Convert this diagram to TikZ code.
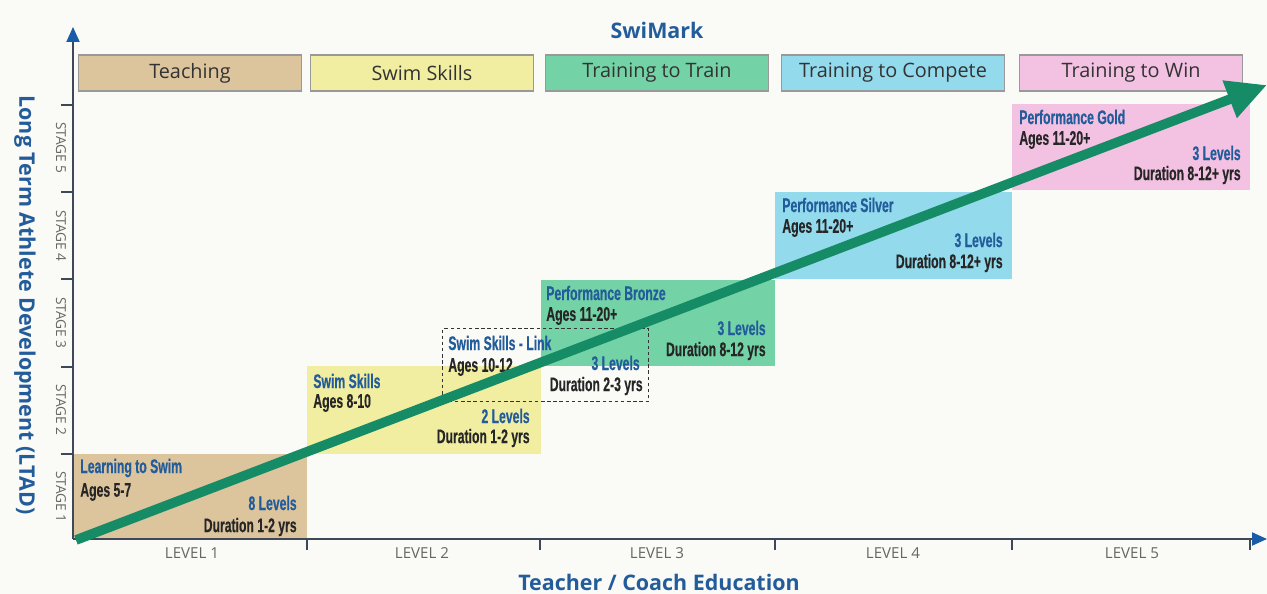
\documentclass[tikz,border=0pt]{standalone}
\usepackage{fontspec}
\setmainfont{Open Sans}
\newfontfamily\condfont[FakeStretch=0.62,BoldFeatures={FakeBold=0.4}]{Liberation Sans}
\usetikzlibrary{arrows.meta,positioning}

\definecolor{paper}{RGB}{250,250,246}
\definecolor{tanbox}{RGB}{220,196,157}
\definecolor{yellowbox}{RGB}{241,238,162}
\definecolor{greenbox}{RGB}{116,211,166}
\definecolor{bluebox}{RGB}{146,218,236}
\definecolor{pinkbox}{RGB}{243,193,225}
\definecolor{titleblue}{RGB}{35,92,155}
\definecolor{axisgray}{RGB}{62,72,88}
\definecolor{tipblue}{RGB}{25,92,168}
\definecolor{pathgreen}{RGB}{22,140,102}

\tikzset{
  headbox/.style={draw=gray!80, line width=0.6pt, minimum width=4.46cm, minimum height=0.72cm,
    inner sep=0pt, font=\fontsize{11.3}{13}\selectfont, text=black!80},
  stagebox/.style={inner sep=0pt, anchor=south west},
  boxtitle/.style={inner sep=0pt, anchor=west, text=titleblue, font=\condfont\bfseries\fontsize{11.2}{13}\selectfont},
  boxages/.style={inner sep=0pt, anchor=west, text=black!85, font=\condfont\bfseries\fontsize{11.2}{13}\selectfont},
  boxlevels/.style={inner sep=0pt, anchor=east, text=titleblue, font=\condfont\bfseries\fontsize{11.2}{13}\selectfont},
  boxtime/.style={inner sep=0pt, anchor=east, text=black!85, font=\condfont\bfseries\fontsize{11.2}{13}\selectfont},
  axisline/.style={axisgray, line width=1.1pt},
  axistitle/.style={text=titleblue, font=\bfseries\fontsize{12.2}{14}\selectfont},
  smalllbl/.style={text=black!60, font=\fontsize{7.8}{9}\selectfont}
}

\begin{document}
\begin{tikzpicture}
 \begin{scope}[x=0.02cm,y=-0.02cm]
\useasboundingbox (0,0) rectangle (1267,594);
\fill[paper] (0,0) rectangle (1267,594);

% top row
\node[axistitle] (swimark) at (657,30) {SwiMark};
\node[headbox, fill=tanbox] (teach) at (190,73) {Teaching};
\node[headbox, fill=yellowbox] (skills) at (422,73) {Swim Skills};
\node[headbox, fill=greenbox] (ttt) at (657,73) {Training to Train};
\node[headbox, fill=bluebox] (ttc) at (893,73) {Training to Compete};
\node[headbox, fill=pinkbox] (ttw) at (1131,73) {Training to Win};

% stage boxes
\node[stagebox, fill=tanbox, minimum width=4.68cm, minimum height=1.7cm] (learn) at (73,539) {};
\node[stagebox, fill=yellowbox, minimum width=4.68cm, minimum height=1.76cm] (swim) at (307,454) {};
\node[stagebox, fill=greenbox, minimum width=4.68cm, minimum height=1.72cm] (bronze) at (541,366) {};
\node[stagebox, fill=bluebox, minimum width=4.74cm, minimum height=1.74cm] (silver) at (775,279) {};
\node[stagebox, fill=pinkbox, minimum width=4.76cm, minimum height=1.72cm] (gold) at (1012,190) {};
\node[draw=black!80, dash pattern=on 2pt off 1.5pt, line width=0.7pt, inner sep=0pt,
  anchor=north west, minimum width=4.12cm, minimum height=1.46cm] (link) at (442,328) {};

\node[boxtitle] (learn-t) at (80,468) {Learning to Swim};
\node[boxages] (learn-a) at (80,492) {Ages 5-7};
\node[boxlevels] (learn-l) at (297,503) {8 Levels};
\node[boxtime] (learn-d) at (297,527) {Duration 1-2 yrs};

\node[boxtitle] (swim-t) at (313,381) {Swim Skills};
\node[boxages] (swim-a) at (313,403) {Ages 8-10};
\node[boxlevels] (swim-l) at (530,416) {2 Levels};
\node[boxtime] (swim-d) at (530,438) {Duration 1-2 yrs};

\node[boxtitle] (link-t) at (448,343) {Swim Skills - Link};
\node[boxages] (link-a) at (448,367) {Ages 10-12};
\node[boxlevels] (link-l) at (640,363) {3 Levels};
\node[boxtime] (link-d) at (643,386) {Duration 2-3 yrs};

\node[boxtitle] (bronze-t) at (546,293) {Performance Bronze};
\node[boxages] (bronze-a) at (546,316) {Ages 11-20+};
\node[boxlevels] (bronze-l) at (766,328) {3 Levels};
\node[boxtime] (bronze-d) at (766,351) {Duration 8-12 yrs};

\node[boxtitle] (silver-t) at (782,205) {Performance Silver};
\node[boxages] (silver-a) at (782,228) {Ages 11-20+};
\node[boxlevels] (silver-l) at (1003,240) {3 Levels};
\node[boxtime] (silver-d) at (1003,263) {Duration 8-12+ yrs};

\node[boxtitle] (gold-t) at (1019,117) {Performance Gold};
\node[boxages] (gold-a) at (1019,140) {Ages 11-20+};
\node[boxlevels] (gold-l) at (1241,153) {3 Levels};
\node[boxtime] (gold-d) at (1241,175) {Duration 8-12+ yrs};

% axes
\coordinate (o) at (73,539);
\coordinate (ytip) at (73,27);
\coordinate (xtip) at (1267,539);
\draw[axisline,-{Triangle[length=0.3cm,width=0.26cm,color=tipblue]}] (o) -- (ytip);
\draw[axisline,-{Triangle[length=0.3cm,width=0.26cm,color=tipblue]}] (o) -- (xtip);
\foreach \y in {105,192,279,367,454}
  \draw[axisline] (61,\y) -- (73,\y);
\foreach \x in {307,540,775,1012,1250}
  \draw[axisline] (\x,539) -- (\x,550);
\foreach \s/\y in {5/148,4/236,3/323,2/410,1/497}
  \node[smalllbl, rotate=-90] (stage\s) at (61,\y) {STAGE \s};
\foreach \l/\x in {1/192,2/422,3/657,4/893,5/1132}
  \node[smalllbl, font=\fontsize{8.6}{10}\selectfont] (level\l) at (\x,553) {LEVEL \l};
\node[axistitle] (coach) at (659,582) {Teacher / Coach Education};
\node[axistitle, rotate=-90] (ltad) at (25,305) {Long Term Athlete Development (LTAD)};

% pathway
\coordinate (pstart) at (76,540);
\coordinate (pend) at (1267,85);
\draw[pathgreen, line width=5.5pt, -{Triangle[length=0.8cm,width=0.75cm]}] (pstart) -- (pend);
\end{scope}
\end{tikzpicture}
\end{document}
